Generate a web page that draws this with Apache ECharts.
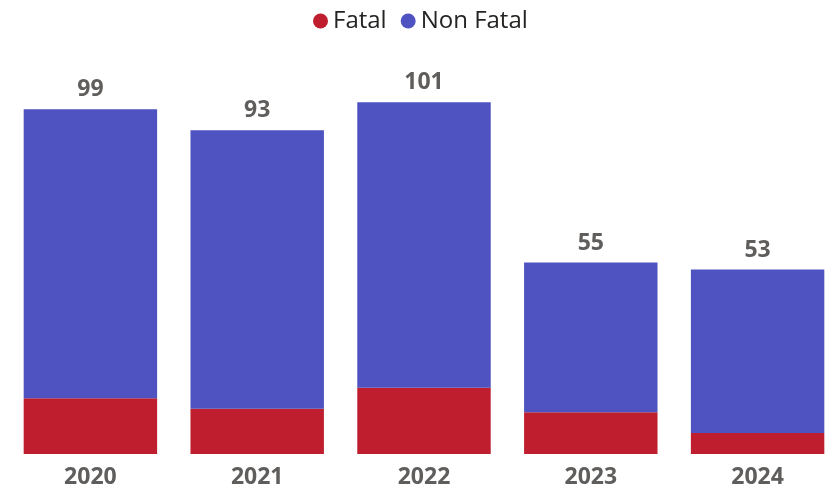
<!DOCTYPE html>
<html lang="en">
<head>
    <meta charset="UTF-8">
    <title>Fatal / Non Fatal</title>
    <script src="https://cdnjs.cloudflare.com/ajax/libs/echarts/6.0.0/echarts.min.js"></script>
    <style>
        body { margin: 0; background: #fff; }
        #main { width: 836px; height: 491px; }
    </style>
</head>
<body>
    <div id="main"></div>
    <script>
        const years = ['2020', '2021', '2022', '2023', '2024'];
        const fatal = [16, 13, 19, 12, 6];
        const nonFatal = [83, 80, 82, 43, 47];
        const totals = fatal.map((v, i) => v + nonFatal[i]);

        const chart = echarts.init(document.getElementById('main'));
        const boldFont = '"Open Sans", sans-serif';

        const option = {
            animation: false,
            legend: {
                top: 4,
                left: 308,
                icon: 'circle',
                itemWidth: 15,
                itemHeight: 15,
                itemGap: 14,
                textStyle: { fontFamily: '"Open Sans", sans-serif', fontSize: 24, color: '#252423', padding: [0, 0, 0, 0] },
                data: ['Fatal', 'Non Fatal']
            },
            grid: { left: 7, width: 834, top: 71, bottom: 37, outerBoundsMode: 'none', containLabel: false },
            xAxis: {
                type: 'category',
                data: years,
                axisLine: { show: false },
                axisTick: { show: false },
                axisLabel: { fontFamily: boldFont, fontSize: 23, fontWeight: 'bold', color: '#605E5C', margin: 12 }
            },
            yAxis: {
                type: 'value',
                min: 0,
                max: 110,
                show: false,
                splitLine: { show: false }
            },
            series: [
                {
                    name: 'Fatal',
                    type: 'bar',
                    stack: 'all',
                    data: fatal,
                    barCategoryGap: '20%',
                    itemStyle: { color: '#BE1E2E' }
                },
                {
                    name: 'Non Fatal',
                    type: 'bar',
                    stack: 'all',
                    data: nonFatal,
                    barCategoryGap: '20%',
                    itemStyle: { color: '#4E53C1' },
                    label: {
                        show: true,
                        position: 'top',
                        distance: 8,
                        fontFamily: boldFont,
                        fontSize: 23,
                        fontWeight: 'bold',
                        color: '#605E5C',
                        formatter: (p) => totals[p.dataIndex]
                    }
                }
            ]
        };

        chart.setOption(option);
    </script>
</body>
</html>
